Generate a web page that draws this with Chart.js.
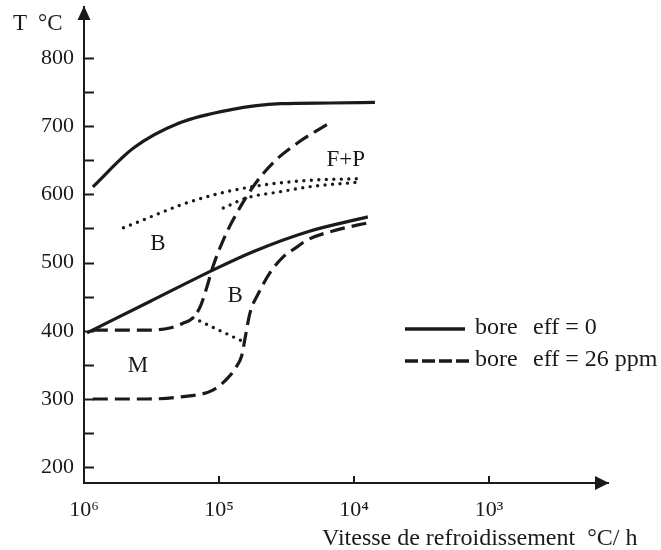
<!DOCTYPE html>
<html>
<head>
<meta charset="utf-8">
<script src="https://cdn.jsdelivr.net/npm/chart.js@4.4.0/dist/chart.umd.min.js"></script>
<style>
  html, body { margin: 0; padding: 0; background: #fff; }
</style>
</head>
<body>
<canvas id="chart" width="661" height="550"></canvas>
<script>
// vitesse de refroidissement en °C/h (axe inversé, de 10^6 à 10^3)
const xTicks = [1e6, 1e5, 1e4, 1e3];
const xTickLabels = ['10⁶', '10⁵', '10⁴', '10³'];
const yTicks = [200, 250, 300, 350, 400, 450, 500, 550, 600, 650, 700, 750, 800];

// bore eff = 0 : courbe haute (F+P)
const solidHighRate = [8.6e5, 4.3e5, 1.95e5, 8.3e4, 3.5e4, 1.5e4, 7.0e3];
const solidHighT = [611, 668, 705, 724, 733, 734, 735];
// bore eff = 0 : courbe basse
const solidLowRate = [9.5e5, 3.25e5, 1.11e5, 5.6e4, 2.23e4, 7.9e3];
const solidLowT = [397, 443, 489, 516, 545, 567];

// bore eff = 26 ppm
const dashHighRate = [8.6e5, 3.4e5, 2.31e5, 1.85e5, 1.56e5, 1.38e5, 1.23e5, 1.11e5, 9.3e4, 7.9e4, 5.6e4, 4.0e4, 2.64e4, 1.51e4];
const dashHighT = [401, 401, 404, 411, 419, 435, 464, 494, 533, 562, 611, 646, 675, 705];
const dashLowRate = [8.6e5, 3.4e5, 1.95e5, 1.11e5, 8.6e4, 7.4e4, 6.8e4, 6.4e4, 5.9e4, 5.1e4, 4.2e4, 3.36e4, 2.64e4, 2.23e4, 1.34e4, 8.0e3];
const dashLowT = [300, 300, 303, 313, 331, 348, 363, 390, 426, 455, 485, 508, 523, 533, 548, 558];

// limites pointillées
const dotLongRate = [5.1e5, 3.4e5, 1.95e5, 1.11e5, 6.2e4, 3.5e4, 2.0e4, 9.0e3];
const dotLongT = [551, 565, 584, 599, 610, 617, 621, 623];
const dotShortRate = [9.3e4, 6.2e4, 3.5e4, 2.0e4, 9.0e3];
const dotShortT = [580, 595, 604, 612, 618];
const dotBRate = [1.56e5, 6.6e4];
const dotBT = [419, 384];

// domaines
const regionText = ['F+P', 'B', 'B', 'M'];
const regionRate = [1.15e4, 2.83e5, 7.6e4, 3.98e5];
const regionT = [650, 527, 451, 348];

const legendText = [['bore', 'eff = 0'], ['bore', 'eff = 26 ppm']];

const serif = 'Liberation Serif, Times New Roman, serif';
const ink = '#1a1a1a';

function pts(xs, ys) { return xs.map((x, i) => ({ x: x, y: ys[i] })); }

function line(xs, ys, kind) {
  const ds = {
    data: pts(xs, ys),
    borderColor: ink,
    borderWidth: 3.2,
    pointRadius: 0,
    fill: false,
    cubicInterpolationMode: 'monotone'
  };
  if (kind === 'dash') ds.borderDash = [15, 7];
  if (kind === 'dot') { ds.borderDash = [0, 7.5]; ds.borderCapStyle = 'round'; ds.borderWidth = 3.4; }
  return ds;
}

function noPad(s) {
  s.paddingTop = 0; s.paddingBottom = 0; s.paddingLeft = 0; s.paddingRight = 0;
}

const decor = {
  id: 'decor',
  afterDraw(chart) {
    const ctx = chart.ctx;
    const xs = chart.scales.x, ys = chart.scales.y;
    const a = chart.chartArea;
    ctx.save();
    ctx.strokeStyle = ink;
    ctx.fillStyle = ink;
    ctx.lineWidth = 2;
    // petites graduations vers l'intérieur
    yTicks.forEach(v => {
      const p = Math.round(ys.getPixelForValue(v)) + 0.5;
      ctx.beginPath(); ctx.moveTo(a.left, p); ctx.lineTo(a.left + 10, p); ctx.stroke();
    });
    xTicks.slice(1).forEach(v => {
      const p = Math.round(xs.getPixelForValue(v));
      ctx.beginPath(); ctx.moveTo(p, a.bottom); ctx.lineTo(p, a.bottom - 7); ctx.stroke();
    });
    // flèches
    ctx.beginPath();
    ctx.moveTo(a.left, a.top - 1); ctx.lineTo(a.left - 6.5, a.top + 13); ctx.lineTo(a.left + 6.5, a.top + 13);
    ctx.closePath(); ctx.fill();
    ctx.beginPath();
    ctx.moveTo(a.right + 1, a.bottom); ctx.lineTo(a.right - 13, a.bottom - 7); ctx.lineTo(a.right - 13, a.bottom + 7);
    ctx.closePath(); ctx.fill();

    // textes
    ctx.font = '23px ' + serif;
    ctx.textBaseline = 'alphabetic';
    ctx.textAlign = 'left';
    ctx.fillText('T', 13, 30);
    ctx.fillText('°C', 38, 30);
    ctx.font = '24px ' + serif;
    ctx.fillText('Vitesse de refroidissement  °C/ h', 322, 545);

    ctx.font = '23px ' + serif;
    ctx.textAlign = 'center';
    ctx.textBaseline = 'middle';
    regionText.forEach((t, i) => {
      ctx.fillText(t, xs.getPixelForValue(regionRate[i]), ys.getPixelForValue(regionT[i]));
    });

    // légende
    ctx.font = '24px ' + serif;
    ctx.textAlign = 'left';
    ctx.textBaseline = 'alphabetic';
    ctx.lineWidth = 3.5;
    ctx.beginPath(); ctx.moveTo(405, 329); ctx.lineTo(465, 329); ctx.stroke();
    ctx.setLineDash([13, 4]);
    ctx.beginPath(); ctx.moveTo(405, 361); ctx.lineTo(469, 361); ctx.stroke();
    ctx.setLineDash([]);
    legendText.forEach((row, i) => {
      ctx.fillText(row[0], 475, 334 + i * 32);
      ctx.fillText(row[1], 533, 334 + i * 32);
    });
    ctx.restore();
  }
};

new Chart(document.getElementById('chart'), {
  type: 'line',
  data: {
    datasets: [
      line(solidHighRate, solidHighT, 'solid'),
      line(solidLowRate, solidLowT, 'solid'),
      line(dashHighRate, dashHighT, 'dash'),
      line(dashLowRate, dashLowT, 'dash'),
      line(dotLongRate, dotLongT, 'dot'),
      line(dotShortRate, dotShortT, 'dot'),
      line(dotBRate, dotBT, 'dot')
    ]
  },
  options: {
    responsive: false,
    animation: false,
    layout: { padding: { left: 0, right: 53, top: 7, bottom: 0 } },
    plugins: { legend: { display: false }, tooltip: { enabled: false } },
    scales: {
      x: {
        type: 'logarithmic',
        reverse: true,
        min: 131.5,
        max: 1e6,
        afterFit: s => { s.height = 67; noPad(s); },
        afterBuildTicks: s => { s.ticks = xTicks.map(v => ({ value: v })); },
        ticks: {
          callback: (v, i) => xTickLabels[i],
          autoSkip: false,
          maxRotation: 0,
          padding: 14,
          color: ink,
          font: { family: serif, size: 22 }
        },
        grid: { drawOnChartArea: false, drawTicks: false },
        border: { color: ink, width: 2 }
      },
      y: {
        min: 176.8,
        max: 874.8,
        afterFit: s => { s.width = 84; noPad(s); },
        afterBuildTicks: s => { s.ticks = yTicks.map(v => ({ value: v })); },
        ticks: {
          callback: v => (v % 100 === 0 ? v : ''),
          padding: 10,
          color: ink,
          font: { family: serif, size: 22 }
        },
        grid: { drawOnChartArea: false, drawTicks: false },
        border: { color: ink, width: 2 }
      }
    }
  },
  plugins: [decor]
});
</script>
</body>
</html>
